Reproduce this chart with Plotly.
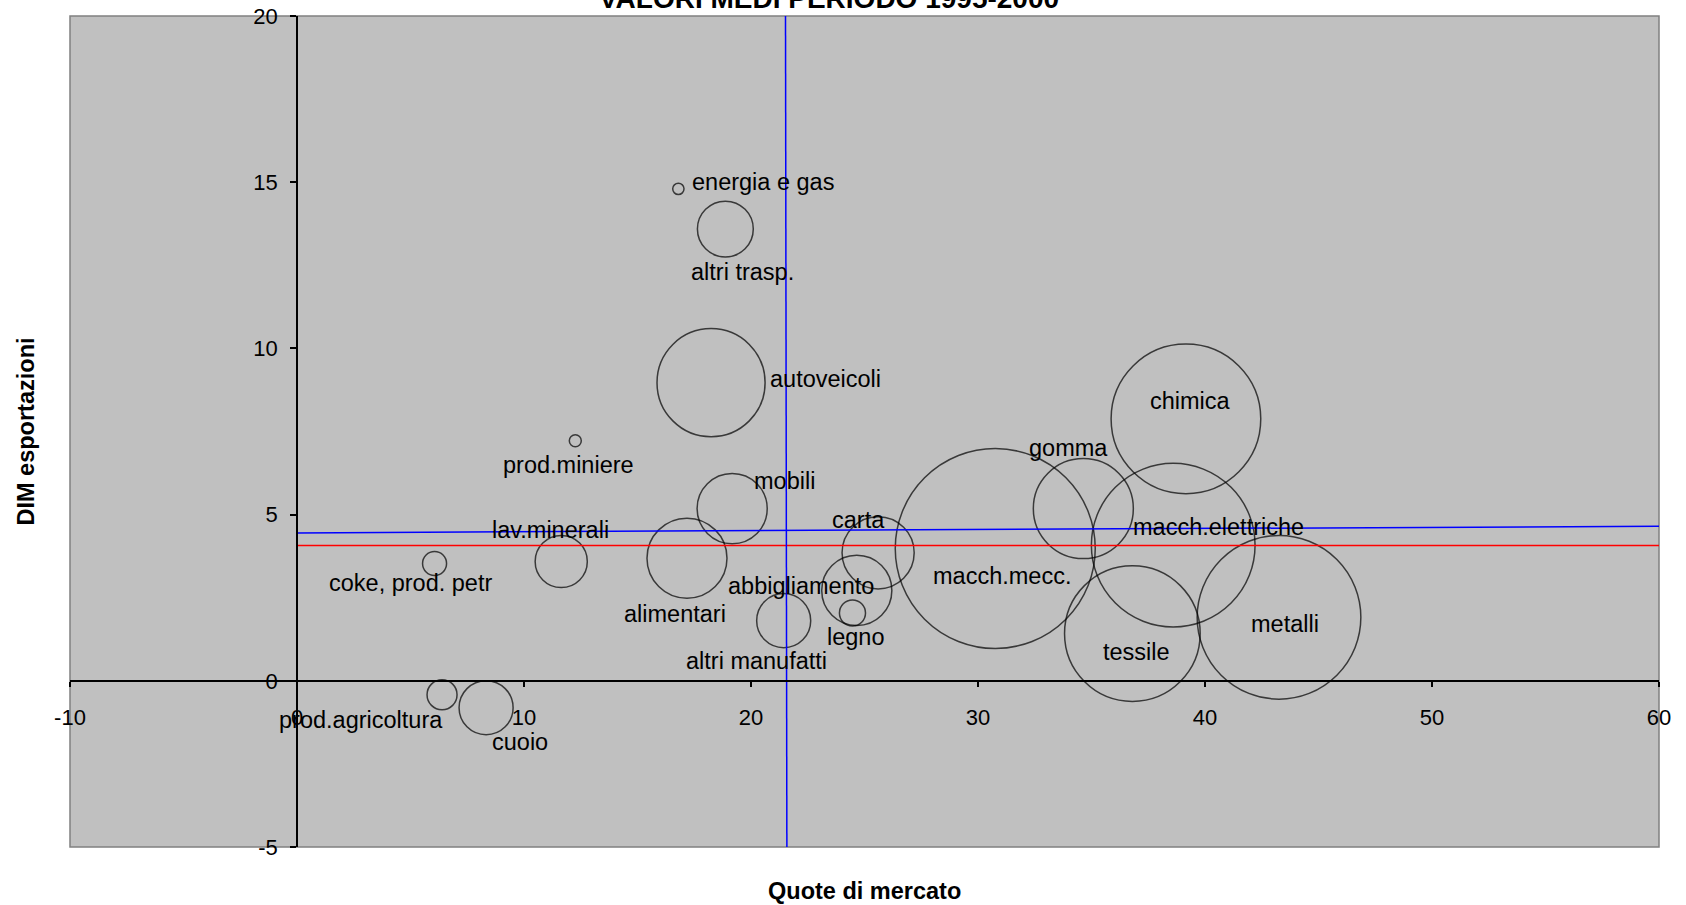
import plotly.graph_objects as go

# ---- data ----
settori = ["energia e gas", "altri trasp.", "autoveicoli", "prod.miniere", "mobili",
           "lav.minerali", "coke, prod. petr", "alimentari", "abbigliamento", "carta",
           "legno", "altri manufatti", "macch.mecc.", "gomma", "chimica",
           "macch.elettriche", "tessile", "metalli", "prod.agricoltura", "cuoio"]
quote = [16.8, 18.87, 18.24, 12.26, 19.17, 11.64, 6.06, 17.18, 24.66, 25.6,
         24.47, 21.44, 30.76, 34.64, 39.16, 38.6, 36.8, 43.26, 6.39, 8.33]
dim_export = [14.80, 13.59, 8.97, 7.22, 5.18, 3.59, 3.53, 3.69, 2.72, 3.85,
              2.04, 1.81, 3.98, 5.18, 7.88, 4.08, 1.42, 1.91, -0.42, -0.81]
peso = [0.32, 7.8, 29.2, 0.36, 12.3, 6.8, 1.44, 16.0, 12.3, 13.0,
        1.7, 7.3, 100.0, 25.0, 56.0, 67.0, 46.0, 67.0, 2.25, 7.3]

# label anchor points (data units)
lab_x = [20.53, 19.64, 23.3, 11.97, 21.49, 11.17, 5.02, 16.66, 22.2, 24.75,
         24.61, 20.26, 31.05, 33.98, 39.36, 40.6, 37.0, 43.54, 2.84, 9.84]
lab_y = [15.02, 12.30, 9.08, 6.50, 6.02, 4.53, 2.94, 2.01, 2.85, 4.85,
         1.33, 0.61, 3.14, 6.99, 8.42, 4.63, 0.87, 1.72, -1.17, -1.84]

# reference lines
media_quote_x = [21.52, 21.58]
media_quote_y = [20, -5]
trend_x = [0, 60]
trend_y = [4.45, 4.65]
media_dim_x = [0, 60]
media_dim_y = [4.07, 4.07]

x_ticks = [-10, 0, 10, 20, 30, 40, 50, 60]
x_ticktext = ["-10", "0", "10", "20", "30", "40", "50", "60"]
y_ticks = [-5, 0, 5, 10, 15, 20]
y_ticktext = ["-5", "0", "5", "10", "15", "20"]

x_range = [-10, 60]
y_range = [-5, 20]

FONT = "Liberation Sans, Arial, sans-serif"

fig = go.Figure()

fig.add_trace(go.Scatter(
    x=quote, y=dim_export, mode="markers",
    marker=dict(size=peso, sizemode="area", sizeref=0.005, sizemin=0,
                color="rgba(0,0,0,0)", line=dict(color="black", width=1.5)),
    hovertext=settori, showlegend=False, cliponaxis=False))

fig.add_trace(go.Scatter(x=trend_x, y=trend_y, mode="lines",
                         line=dict(color="#0000FF", width=1.5), showlegend=False))
fig.add_trace(go.Scatter(x=media_dim_x, y=media_dim_y, mode="lines",
                         line=dict(color="#FF0000", width=1.5), showlegend=False))
fig.add_trace(go.Scatter(x=media_quote_x, y=media_quote_y, mode="lines",
                         line=dict(color="#0000FF", width=1.5), showlegend=False))

for name, lx, ly in zip(settori, lab_x, lab_y):
    fig.add_annotation(x=lx, y=ly, text=name, showarrow=False,
                       font=dict(family=FONT, size=23.5, color="black"),
                       xanchor="center", yanchor="middle")

fig.add_annotation(text="<b>VALORI MEDI PERIODO 1995-2000</b>", xref="paper", yref="paper",
                   x=0.4777, y=1.0205, showarrow=False, xanchor="center", yanchor="middle",
                   font=dict(family=FONT, size=28, color="black"))
fig.add_annotation(text="<b>Quote di mercato</b>", xref="paper", yref="paper",
                   x=0.5, y=-0.0525, showarrow=False, xanchor="center", yanchor="middle",
                   font=dict(family=FONT, size=23.5, color="black"))
fig.add_annotation(text="<b>DIM esportazioni</b>", xref="paper", yref="paper",
                   x=-0.0277, y=0.5, showarrow=False, textangle=-90,
                   xanchor="center", yanchor="middle",
                   font=dict(family=FONT, size=23.5, color="black"))

fig.add_shape(type="rect", xref="paper", yref="paper", x0=0, y0=0, x1=1, y1=1,
              line=dict(color="#808080", width=1.5), layer="below")

fig.update_layout(
    width=1686, height=905,
    margin=dict(l=70, r=27, t=16, b=58, autoexpand=False),
    paper_bgcolor="white", plot_bgcolor="#C0C0C0",
    font=dict(family=FONT, size=22, color="black"),
    xaxis=dict(range=x_range, tickvals=x_ticks, ticktext=x_ticktext,
               anchor="free", position=5 / 25, automargin=False,
               ticklabeloverflow="allow",
               showline=True, linecolor="black", linewidth=1.5,
               ticks="outside", ticklen=5, tickcolor="black", tickwidth=1.5,
               showgrid=False, zeroline=False, ticklabelstandoff=12,
               tickfont=dict(family=FONT, size=22, color="black")),
    yaxis=dict(range=y_range, tickvals=y_ticks, ticktext=y_ticktext,
               anchor="free", position=10 / 70, automargin=False,
               ticklabeloverflow="allow",
               showline=True, linecolor="black", linewidth=1.5,
               ticks="outside", ticklen=6, tickcolor="black", tickwidth=1.5,
               showgrid=False, zeroline=False, ticklabelstandoff=8,
               tickfont=dict(family=FONT, size=22, color="black")),
)

fig.write_html("out.html", config={"displayModeBar": False},
               post_script="document.body.style.margin='0px';document.body.style.overflow='hidden';")
